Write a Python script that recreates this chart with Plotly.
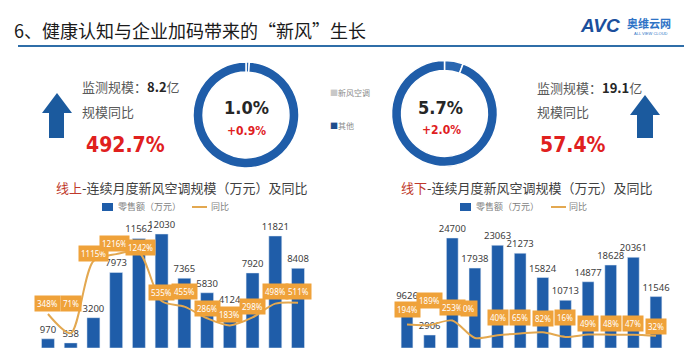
import plotly.graph_objects as go

# ---------------- data ----------------
months = ["M1", "M2", "M3", "M4", "M5", "M6", "M7", "M8", "M9", "M10", "M11", "M12"]
online_sales = [970, 538, 3200, 7973, 11562, 12030, 7365, 5830, 4124, 7920, 11821, 8408]
online_yoy = [348, 71, 1115, 1216, 1242, 535, 455, 286, 183, 298, 498, 511]
offline_sales = [9626, 2906, 24700, 17938, 23063, 21273, 15824, 10713, 14877, 18628, 20361, 11546]
offline_yoy = [194, 189, 253, 0, 40, 65, 82, 16, 49, 48, 47, 32]
share_labels = ["新风空调", "其他"]
online_share = [1.0, 99.0]
offline_share = [5.7, 94.3]

# ---------------- styling ----------------
W, H = 700, 352
BLUE = "#1F5DA9"
ORANGE = "#EFA23A"
LINE = "#E3A850"
RED = "#E0201E"
CJK = "Noto Sans CJK SC"
NARROW = "Liberation Sans Narrow, DejaVu Sans Condensed, Noto Sans CJK SC"

def px(x):
    return x / W

def py(y):
    return 1 - y / H

# label shifts (pixels) for yoy boxes
on_shift = [11, 30, 8, 11, 5, 9, 15, 10, 11, 11, 12, 11]
on_xshift = [0, 0, 0, -2, 2, 0, 0, 0, 0, 0, 0, 0]
off_shift = [15, 24, 13, 30, 18, 16, 14, 19, 11, 11, 11, 9]
off_xshift = [0, 0, 0, -6, 0, 0, 0, 0, 0, 0, 0, 0]

fig = go.Figure()

bar_font = dict(size=9.5, color="#404040", family="Noto Sans")
fig.add_trace(go.Bar(x=months, y=online_sales, marker_color=BLUE, width=0.57,
                     text=[str(v) for v in online_sales], textposition="outside",
                     constraintext="none", textfont=bar_font,
                     cliponaxis=False, xaxis="x", yaxis="y", showlegend=False))
fig.add_trace(go.Scatter(x=months, y=online_yoy, mode="lines",
                         line=dict(color=LINE, width=2, shape="spline", smoothing=0.8),
                         xaxis="x", yaxis="y2", showlegend=False, cliponaxis=False))
fig.add_trace(go.Bar(x=months, y=offline_sales, marker_color=BLUE, width=0.52,
                     text=[str(v) for v in offline_sales], textposition="outside",
                     constraintext="none", textfont=bar_font,
                     cliponaxis=False, xaxis="x2", yaxis="y3", showlegend=False))
fig.add_trace(go.Scatter(x=months, y=offline_yoy, mode="lines",
                         line=dict(color=LINE, width=2, shape="spline", smoothing=0.8),
                         xaxis="x2", yaxis="y4", showlegend=False, cliponaxis=False))

# donuts
fig.add_trace(go.Pie(values=online_share, labels=share_labels, hole=0.81, sort=False,
                     direction="clockwise", rotation=0, textinfo="none", hoverinfo="none",
                     marker=dict(colors=["#2A67B1", BLUE], line=dict(color="white", width=1.5)),
                     domain=dict(x=[px(193), px(299)], y=[py(168), py(62)]), showlegend=False))
fig.add_trace(go.Pie(values=offline_share, labels=share_labels, hole=0.81, sort=False,
                     direction="clockwise", rotation=0, textinfo="none", hoverinfo="none",
                     marker=dict(colors=["#2A67B1", BLUE], line=dict(color="white", width=1.5)),
                     domain=dict(x=[px(391.5), px(497.5)], y=[py(166.5), py(60.5)]), showlegend=False))

ydom = [py(348), py(215)]
ax_hidden = dict(visible=False, showgrid=False, zeroline=False, fixedrange=True)
fig.update_layout(
    width=W, height=H, margin=dict(l=0, r=0, t=0, b=0),
    paper_bgcolor="white", plot_bgcolor="rgba(0,0,0,0)",
    xaxis=dict(ax_hidden, domain=[px(36.6), px(309.4)], range=[-0.5, 11.5], anchor="y"),
    yaxis=dict(ax_hidden, domain=ydom, range=[0, 14035], anchor="x"),
    yaxis2=dict(ax_hidden, overlaying="y", range=[-145, 1783.5], anchor="x"),
    xaxis2=dict(ax_hidden, domain=[px(395.7), px(667.3)], range=[-0.5, 11.5], anchor="y3"),
    yaxis3=dict(ax_hidden, domain=ydom, range=[0, 29865], anchor="x2"),
    yaxis4=dict(ax_hidden, overlaying="y3", range=[-145, 1783.5], anchor="x2"),
)

ann = []
def text(x, y, s, size, color="#595959", family=CJK, xanchor="left", **kw):
    ann.append(dict(x=px(x), y=py(y), xref="paper", yref="paper", text=s, showarrow=False,
                    xanchor=xanchor, yanchor="middle",
                    font=dict(size=size, color=color, family=family), **kw))

# header
text(12, 30, "6、健康认知与企业加码带来的“新风”生长", 18, color="#1A1A1A")
text(578, 26, "<b><i>AVC</i></b>", 19, color="#1B4F9C", family="Liberation Sans, Arial")
text(625, 23, "<b>奥维云网</b>", 11, color="#2E73C6")
text(632, 33, "ALL VIEW CLOUD", 4, color="#2E73C6", family="Liberation Sans")

# left KPI
text(80, 86, "监测规模：<b><span style='color:#262626'>8.2</span></b>亿", 13)
text(80, 112, "规模同比", 13)
text(125, 145, "<b>492.7%</b>", 21, color=RED, family=NARROW, xanchor="center")
text(246, 107, "<b>1.0%</b>", 18, color="#262626", family=NARROW, xanchor="center")
text(246, 131, "<b>+0.9%</b>", 12, color=RED, family=NARROW, xanchor="center")
text(328, 93, "<span style='color:#C8C8C8'>■</span>新风空调", 8, color="#8C8C8C")
text(328, 125, "<span style='color:#1F4E8C'>■</span>其他", 8, color="#8C8C8C")

# right KPI
text(440, 107, "<b>5.7%</b>", 18, color="#262626", family=NARROW, xanchor="center")
text(441, 130, "<b>+2.0%</b>", 12, color=RED, family=NARROW, xanchor="center")
text(535, 87, "监测规模：<b><span style='color:#262626'>19.1</span></b>亿", 13)
text(535, 112, "规模同比", 13)
text(573, 145, "<b>57.4%</b>", 21, color=RED, family=NARROW, xanchor="center")

# chart titles and legends
text(182, 187, "<span style='color:#C0392B'>线上</span>-连续月度新风空调规模（万元）及同比", 13, color="#404040", xanchor="center")
text(527, 187, "<span style='color:#C0392B'>线下</span>-连续月度新风空调规模（万元）及同比", 13, color="#404040", xanchor="center")
text(116, 207, "零售额（万元）", 9, color="#7F7F7F")
text(209, 207, "同比", 9, color="#7F7F7F")
text(474, 207, "零售额（万元）", 9, color="#7F7F7F")
text(567, 207, "同比", 9, color="#7F7F7F")

# yoy label boxes
box_font = dict(size=8, color="white", family="Noto Sans")
for i, (m, v) in enumerate(zip(months, online_yoy)):
    ann.append(dict(x=m, y=v, xref="x", yref="y2", text=f"{v}%", showarrow=False,
                    yshift=on_shift[i], xshift=on_xshift[i], bgcolor=ORANGE, borderpad=2,
                    font=box_font))
for i, (m, v) in enumerate(zip(months, offline_yoy)):
    ann.append(dict(x=m, y=v, xref="x2", yref="y4", text=f"{v}%", showarrow=False,
                    yshift=off_shift[i], xshift=off_xshift[i], bgcolor=ORANGE, borderpad=2,
                    font=box_font))
fig.update_layout(annotations=ann)

def arrow(x0, x1, s0, s1, ytop, yneck, ybot):
    xm = (x0 + x1) / 2
    pts = [(xm, ytop), (x1, yneck), (s1, yneck), (s1, ybot), (s0, ybot), (s0, yneck), (x0, yneck)]
    return "M " + " L ".join(f"{px(a)},{py(b)}" for a, b in pts) + " Z"

shapes = [
    dict(type="line", xref="paper", yref="paper", x0=px(18), x1=px(684), y0=py(46), y1=py(46),
         line=dict(color="#2F6EA8", width=2)),
    dict(type="path", xref="paper", yref="paper", path=arrow(42, 72, 49, 64, 93, 113, 138),
         fillcolor="#1B5A9E", line=dict(width=0)),
    dict(type="path", xref="paper", yref="paper", path=arrow(630, 660, 637, 653, 95, 115, 138),
         fillcolor="#1B5A9E", line=dict(width=0)),
    dict(type="rect", xref="paper", yref="paper", x0=px(102), x1=px(113), y0=py(211), y1=py(203),
         fillcolor=BLUE, line=dict(width=0)),
    dict(type="line", xref="paper", yref="paper", x0=px(192), x1=px(207), y0=py(207), y1=py(207),
         line=dict(color=LINE, width=2)),
    dict(type="rect", xref="paper", yref="paper", x0=px(460), x1=px(471), y0=py(211), y1=py(203),
         fillcolor=BLUE, line=dict(width=0)),
    dict(type="line", xref="paper", yref="paper", x0=px(551), x1=px(566), y0=py(207), y1=py(207),
         line=dict(color=LINE, width=2)),
]
fig.update_layout(shapes=shapes)

fig.write_html("out.html")
